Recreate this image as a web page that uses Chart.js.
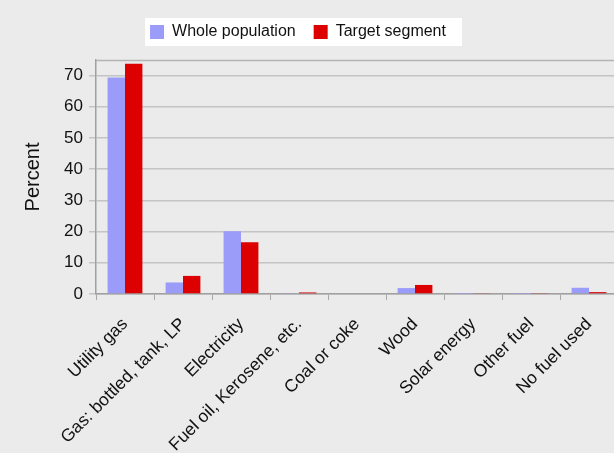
<!DOCTYPE html>
<html>
<head>
<meta charset="utf-8">
<script src="https://cdn.jsdelivr.net/npm/chart.js@4.4.0/dist/chart.umd.min.js"></script>
<style>
    html, body { margin: 0; padding: 0; background: #ebebeb; overflow: hidden; }
    #wrap { width: 618px; height: 453px; }
</style>
</head>
<body>
<div id="wrap"><canvas id="chartBar" width="618" height="453"></canvas></div>
<script>
// data
var categories = ["Utility gas", "Gas: bottled, tank, LP", "Electricity", "Fuel oil, Kerosene, etc.",
    "Coal or coke", "Wood", "Solar energy", "Other fuel", "No fuel used"];
var wholePopulation = [69.4, 3.7, 20.1, 0.3, 0, 1.9, 0.1, 0.1, 2.0];
var targetSegment = [73.8, 5.8, 16.6, 0.5, 0, 2.9, 0.2, 0.3, 0.6];
var yTicks = [0, 10, 20, 30, 40, 50, 60, 70];

var FONT = "'Liberation Sans', Arial, sans-serif";

// white box behind the legend, a top border line, and the legend shift
var chartDeco = {
    id: "chartDeco",
    beforeUpdate: function(chart) {
        var legend = chart.legend;
        if (legend && !legend._patched) {
            var fit = legend.fit;
            legend.fit = function() {
                fit.call(this);
                this.height = 54;
            };
            legend._patched = true;
        }
    },
    afterLayout: function(chart) {
        var legend = chart.legend;
        legend.left -= 11;
        legend.right -= 11;
        legend.legendHitBoxes.forEach(function(b) { b.left -= 11; });
    },
    beforeDraw: function(chart) {
        var ctx = chart.ctx;
        var boxes = chart.legend.legendHitBoxes;
        if (boxes.length) {
            var first = boxes[0], last = boxes[boxes.length - 1];
            ctx.save();
            ctx.fillStyle = "#ffffff";
            ctx.fillRect(first.left - 5, first.top - 6, last.left + last.width - first.left + 21, 28);
            ctx.restore();
        }
    },
    afterDatasetsDraw: function(chart) {
        var a = chart.chartArea, ctx = chart.ctx;
        ctx.save();
        ctx.strokeStyle = "#b4b4b4";
        ctx.lineWidth = 1.5;
        ctx.beginPath();
        ctx.moveTo(a.left, a.top + 0.5);
        ctx.lineTo(a.right, a.top + 0.5);
        ctx.stroke();
        ctx.restore();
    }
};

var ctx = document.getElementById("chartBar");
var myBarChart = new Chart(ctx, {
    type: "bar",
    data: {
        labels: categories,
        datasets: [{
                label: "Whole population",
                data: wholePopulation,
                backgroundColor: "#9b9bfa",
                borderWidth: 0,
            },
            {
                label: "Target segment",
                data: targetSegment,
                backgroundColor: "#dc0000",
                borderWidth: 0,
            },
        ],
    },
    options: {
        responsive: false,
        animation: false,
        layout: {
            padding: { top: 6, left: 0, right: 0, bottom: 0 },
        },
        datasets: {
            bar: {
                categoryPercentage: 0.6,
                barPercentage: 1.0,
            },
        },
        plugins: {
            legend: {
                position: "top",
                labels: {
                    boxWidth: 14,
                    boxHeight: 14,
                    padding: 18,
                    color: "#111111",
                    font: { family: FONT, size: 16 },
                },
            },
            tooltip: { enabled: false },
        },
        scales: {
            x: {
                grid: {
                    offset: true,
                    drawOnChartArea: false,
                    drawTicks: true,
                    tickLength: 6,
                    color: "#a8a8a8",
                },
                border: { color: "#a0a0a0", width: 1.5 },
                ticks: {
                    maxRotation: 45,
                    minRotation: 45,
                    padding: 14,
                    color: "#111111",
                    font: { family: FONT, size: 17.5 },
                },
                afterFit: function(scale) {
                    scale.height = 159;
                },
            },
            y: {
                min: 0,
                max: 75,
                afterBuildTicks: function(scale) {
                    scale.ticks = yTicks.map(function(v) { return { value: v }; });
                },
                grid: {
                    color: "#c4c4c4",
                    lineWidth: 1.5,
                    drawTicks: true,
                    tickLength: 7,
                },
                border: { color: "#a0a0a0", width: 1.5 },
                ticks: {
                    padding: 6,
                    color: "#111111",
                    font: { family: FONT, size: 17 },
                },
                title: {
                    display: true,
                    text: "Percent",
                    color: "#111111",
                    font: { family: FONT, size: 20 },
                    padding: { top: 21, bottom: 0 },
                },
                afterFit: function(scale) {
                    scale.width = 96;
                },
            },
        },
    },
    plugins: [chartDeco],
});
</script>
</body>
</html>
